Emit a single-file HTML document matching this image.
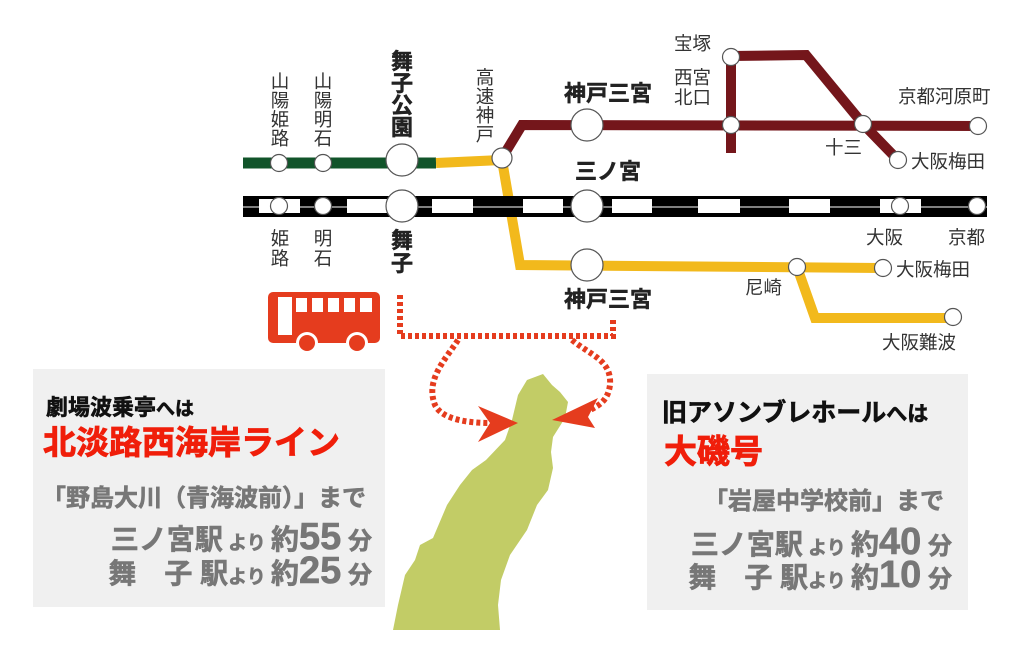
<!DOCTYPE html>
<html><head><meta charset="utf-8"><style>
html,body{margin:0;padding:0;background:#fff;}
svg{display:block;}
text{font-family:"Liberation Sans","Noto Sans CJK JP",sans-serif;}
.st{font-size:18.5px;fill:#333;}
.bd{font-size:22px;font-weight:bold;fill:#222;stroke:#222;stroke-width:0.5;}
.hv{stroke-width:0.7;}
</style></head><body>
<svg width="1024" height="666" viewBox="0 0 1024 666" xmlns="http://www.w3.org/2000/svg">
<rect x="33" y="369" width="352" height="238" fill="#f0f0f0"/>
<rect x="647" y="374" width="321" height="236" fill="#f0f0f0"/>

<line x1="243" y1="163" x2="436" y2="163" stroke="#11542a" stroke-width="11"/>
<polyline points="436,163 502,160 520,265 880,268" fill="none" stroke="#f2b91c" stroke-width="10"/>
<polyline points="797,267 815,318 952,318" fill="none" stroke="#f2b91c" stroke-width="10"/>
<polyline points="502,158 522,125 980,126" fill="none" stroke="#74161b" stroke-width="10"/>
<line x1="731" y1="56" x2="731" y2="153" stroke="#74161b" stroke-width="10"/>
<polyline points="731,56 806,55 863,124 898,160" fill="none" stroke="#74161b" stroke-width="10"/>
<rect x="243" y="196" width="744" height="21" fill="#000"/>
<line x1="243" y1="207" x2="987" y2="207" stroke="#fff" stroke-width="1"/>
<g fill="#fff">
<rect x="259" y="199" width="41" height="14"/><rect x="347" y="199" width="41" height="14"/>
<rect x="432" y="199" width="41" height="14"/><rect x="523" y="199" width="40" height="14"/>
<rect x="612" y="199" width="40" height="14"/><rect x="698" y="199" width="42" height="14"/>
<rect x="789" y="199" width="41" height="14"/><rect x="880" y="199" width="41" height="14"/>
</g>
<g fill="#fff" stroke="#555" stroke-width="1.2">
<circle cx="279" cy="163" r="8.5"/><circle cx="323" cy="163" r="8.5"/><circle cx="402" cy="160" r="16"/>
<circle cx="502" cy="158" r="10"/>
<circle cx="587" cy="125" r="16"/><circle cx="731" cy="57" r="8.5"/><circle cx="731" cy="125" r="8.5"/>
<circle cx="863" cy="124" r="8.5"/><circle cx="978" cy="126" r="8.5"/><circle cx="898" cy="160" r="8.5"/>
<circle cx="279" cy="206" r="8.5"/><circle cx="323" cy="206" r="8.5"/><circle cx="402" cy="206" r="16"/>
<circle cx="587" cy="206" r="16"/><circle cx="900" cy="206" r="8.5"/><circle cx="977" cy="206" r="8.5"/>
<circle cx="587" cy="265" r="16"/><circle cx="797" cy="267" r="8.5"/><circle cx="883" cy="268" r="8.5"/>
<circle cx="953" cy="317" r="8.5"/>
</g>

<g class="st" text-anchor="middle">
<text x="280" y="88">山</text><text x="280" y="107">陽</text><text x="280" y="126">姫</text><text x="280" y="145">路</text>
<text x="323" y="88">山</text><text x="323" y="107">陽</text><text x="323" y="126">明</text><text x="323" y="145">石</text>
<text x="485" y="84">高</text><text x="485" y="103">速</text><text x="485" y="122">神</text><text x="485" y="141">戸</text>
<text x="280" y="245">姫</text><text x="280" y="265">路</text>
<text x="323" y="245">明</text><text x="323" y="265">石</text>
</g>
<g class="bd" text-anchor="middle">
<text x="402" y="69">舞</text><text x="402" y="91">子</text><text x="402" y="113">公</text><text x="402" y="135">園</text>
<text x="402" y="248">舞</text><text x="402" y="271">子</text>
<text x="608" y="101">神戸三宮</text>
<text x="608" y="179">三ノ宮</text>
<text x="608" y="307">神戸三宮</text>
</g>
<g class="st">
<text x="674" y="50">宝塚</text>
<text x="674" y="84">西宮</text><text x="674" y="104">北口</text>
<text x="898" y="103">京都河原町</text>
<text x="825" y="154">十三</text>
<text x="911" y="168">大阪梅田</text>
<text x="866" y="244">大阪</text><text x="948" y="244">京都</text>
<text x="745" y="294">尼崎</text>
<text x="896" y="276">大阪梅田</text>
<text x="882" y="349">大阪難波</text>
</g>

<rect x="268" y="292" width="112" height="51" rx="5" fill="#e53c1e"/>
<rect x="278" y="297" width="14" height="38" fill="#fff"/>
<g fill="#fff">
<rect x="296" y="298" width="11" height="14"/><rect x="312" y="298" width="11" height="14"/><rect x="328" y="298" width="11" height="14"/>
<rect x="344" y="298" width="11" height="14"/><rect x="360" y="298" width="12" height="14"/>
</g>
<circle cx="307" cy="343" r="11" fill="#fff"/><circle cx="307" cy="343" r="8" fill="#e53c1e"/>
<circle cx="357" cy="343" r="11" fill="#fff"/><circle cx="357" cy="343" r="8" fill="#e53c1e"/>

<path d="M543,374 L552,385 L560,392 L568,402 L565,418 L553,437 L551,452 L553,468 L548,490 L537,505 L527,530 L510,555 L501,580 L498,605 L500,630 L393,630 L398,605 L405,575 L415,560 L420,545 L433,538 L447,505 L460,485 L472,470 L486,460 L505,440 L512,420 L518,395 L527,380 Z" fill="#c2cc66"/>

<g fill="none" stroke="#e53c1e" stroke-width="6" stroke-dasharray="4,3">
<polyline points="400,295 400,336 613,336 613,318"/>
<path d="M458,340 C445,360 425,380 435,405 C442,420 470,423 490,423"/>
<path d="M572,340 C590,355 612,360 610,385 C608,400 600,405 590,410"/>
</g>
<polygon points="518,423 478,406 490,423 478,442" fill="#e53c1e"/>
<polygon points="552,420 598,398 588,417 595,428" fill="#e53c1e"/>

<text x="46" y="415" font-size="22" font-weight="bold" fill="#111" stroke="#111" stroke-width="0.6">劇場波乗亭<tspan font-size="19">へは</tspan></text>
<text x="43" y="454" font-size="33" font-weight="bold" fill="#f01e0a" stroke="#f01e0a" stroke-width="0.8">北淡路西海岸ライン</text>
<text x="42" y="506" font-size="24" font-weight="bold" fill="#777" stroke="#777" stroke-width="0.6">「野島大川（青海波前）」まで</text>
<g font-weight="bold" fill="#777" stroke="#777" stroke-width="0.6" text-anchor="end">
<text x="372" y="549"><tspan font-size="28">三ノ宮駅</tspan><tspan font-size="19"> より </tspan><tspan font-size="28">約</tspan><tspan font-size="38">55</tspan><tspan font-size="24"> 分</tspan></text>
<text x="372" y="583"><tspan font-size="28">舞　子 駅</tspan><tspan font-size="19">より </tspan><tspan font-size="28">約</tspan><tspan font-size="38">25</tspan><tspan font-size="24"> 分</tspan></text>
</g>
<text x="662" y="421" font-size="25" font-weight="bold" fill="#111" stroke="#111" stroke-width="0.6">旧アソンブレホール<tspan font-size="21">へは</tspan></text>
<text x="664" y="463" font-size="33" font-weight="bold" fill="#f01e0a" stroke="#f01e0a" stroke-width="0.8">大磯号</text>
<g font-weight="bold" fill="#777" stroke="#777" stroke-width="0.6" text-anchor="end">
<text x="944" y="509" font-size="24">「岩屋中学校前」まで</text>
<text x="952" y="554"><tspan font-size="28">三ノ宮駅</tspan><tspan font-size="19"> より </tspan><tspan font-size="28">約</tspan><tspan font-size="38">40</tspan><tspan font-size="24"> 分</tspan></text>
<text x="952" y="587"><tspan font-size="28">舞　子 駅</tspan><tspan font-size="19">より </tspan><tspan font-size="28">約</tspan><tspan font-size="38">10</tspan><tspan font-size="24"> 分</tspan></text>
</g>
</svg>
</body></html>
